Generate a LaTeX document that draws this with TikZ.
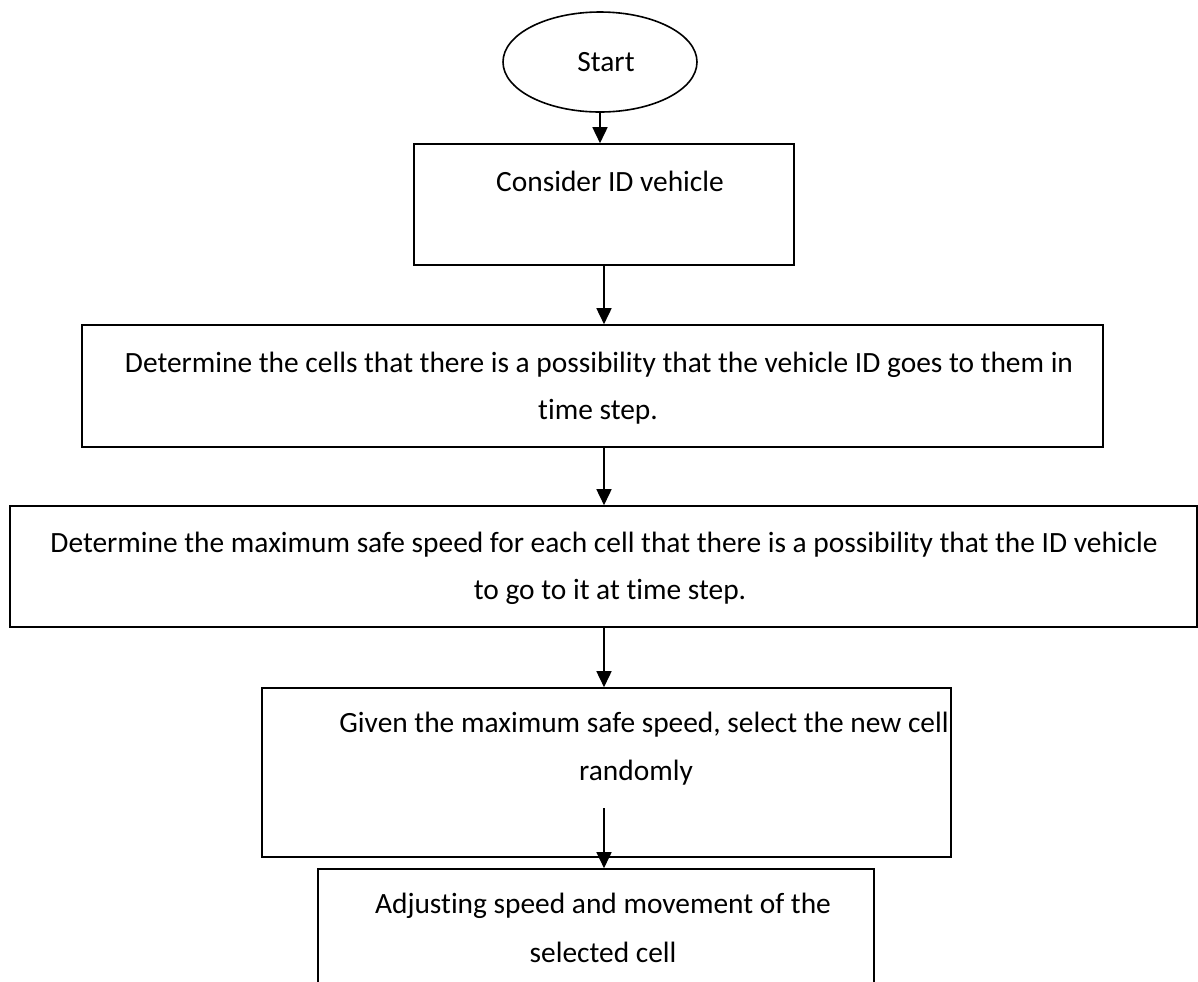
\documentclass[tikz,border=0pt]{standalone}
\usepackage{fontspec}
\setmainfont{Carlito}[Ligatures=NoCommon]
\usetikzlibrary{arrows.meta,shapes.geometric,fit}
\tikzset{
  box/.style={draw=black, line width=0.8pt, rectangle, inner sep=0pt},
  oval/.style={draw=black, line width=0.8pt, ellipse, inner sep=0pt},
  txt/.style={anchor=base, inner sep=0pt, font=\fontsize{14.7pt}{23.75pt}\selectfont},
  arr/.style={line width=0.8pt, -{Triangle[width=7.5pt,length=8pt]}}
}
\begin{document}
\begin{tikzpicture}[x=0.5pt,y=-0.5pt]
\useasboundingbox[fill=white] (0,0) rectangle (1198,981);
% shapes
\node[oval, minimum width=97pt, minimum height=50pt, font=\fontsize{14.7pt}{16pt}\selectfont] (start) at (600,62) {\hspace*{6pt}Start};
\node[box, fit={(414,144) (794,265)}] (b1) {};
\node[box, fit={(82,325) (1103,447)}] (b2) {};
\node[box, fit={(10,506) (1197,627)}] (b3) {};
\node[box, fit={(262,688) (951,857)}] (b4) {};
\node[box, fit={(318,869) (874,1000)}] (b5) {};
% texts
\node[txt] (t1) at (610,191) {Consider ID vehicle};
\node[txt] (t2a) at (599,372) {Determine the cells that there is a possibility that the vehicle ID goes to them in};
\node[txt] (t2b) at (598,419) {time step.};
\node[txt] (t3a) at (604,552) {Determine the maximum safe speed for each cell that there is a possibility that the ID vehicle};
\node[txt] (t3b) at (610,599) {to go to it at time step.};
\node[txt] (t4a) at (644,732) {Given the maximum safe speed, select the new cell};
\node[txt] (t4b) at (636,780) {randomly};
\node[txt] (t5a) at (603,913) {Adjusting speed and movement of the};
\node[txt] (t5b) at (603,962) {selected cell};
% connectors
\coordinate (ax) at (604,0);
\coordinate (c4) at (604,808);
\draw[arr] (start.south) -- (start.south |- b1.north);
\draw[arr] (b1.south -| ax) -- (b2.north -| ax);
\draw[arr] (b2.south -| ax) -- (b3.north -| ax);
\draw[arr] (b3.south -| ax) -- (b4.north -| ax);
\draw[arr] (c4) -- (b5.north -| c4);
\end{tikzpicture}
\end{document}
